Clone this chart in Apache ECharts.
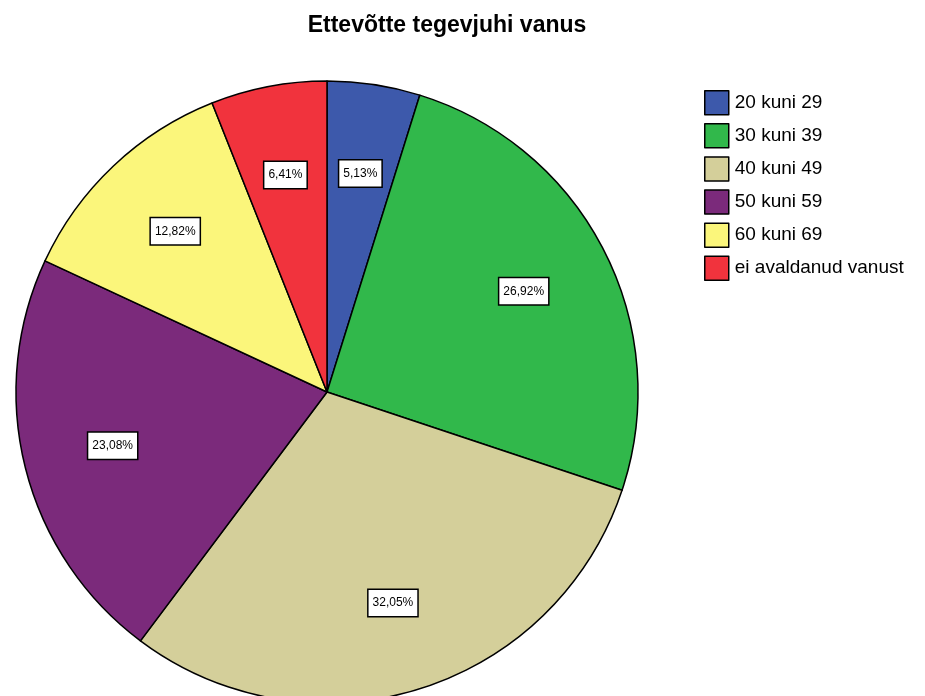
<!DOCTYPE html>
<html>
<head>
<meta charset="utf-8">
<script src="https://cdn.jsdelivr.net/npm/echarts@6/dist/echarts.min.js"></script>
<style>
  html, body { margin: 0; padding: 0; background: #fff; }
  #chart { width: 925px; height: 696px; }
</style>
</head>
<body>
<div id="chart"></div>
<script>
const categories = ['20 kuni 29', '30 kuni 39', '40 kuni 49', '50 kuni 59', '60 kuni 69', 'ei avaldanud vanust'];
const shares = [5.13, 26.92, 32.05, 23.08, 12.82, 6.41];
const colors = ['#3d59ab', '#31b84b', '#d4cf9a', '#7b2a7b', '#fbf67b', '#f1333d'];

let chart = echarts.init(document.getElementById('chart'));
let slices = categories.map((name, i) => ({ name: name, value: shares[i], itemStyle: { color: colors[i] } }));

chart.setOption({
    animation: false,
    title: {
        text: 'Ettevõtte tegevjuhi vanus',
        left: 442, top: 9, textAlign: 'center',
        textStyle: { fontFamily: 'Liberation Sans', fontSize: 23, fontWeight: 'bold', color: '#000' }
    },
    legend: {
        orient: 'vertical',
        left: 699, top: 85,
        itemWidth: 24, itemHeight: 24, itemGap: 7.6,
        icon: 'rect',
        itemStyle: { borderColor: '#000', borderWidth: 1.5 },
        textStyle: { fontFamily: 'Liberation Sans', fontSize: 19, lineHeight: 22, color: '#000', padding: [0, 0, 0, 1] },
        data: categories
    },
    series: [
        {
            type: 'pie',
            center: [327, 392],
            radius: [0, 311],
            startAngle: 90,
            clockwise: true,
            silent: true,
            itemStyle: { borderColor: '#000', borderWidth: 1.5 },
            label: { show: false },
            labelLine: { show: false },
            data: slices
        },
        {
            // transparent ring used only to place the value labels
            type: 'pie',
            center: [327, 392],
            radius: [125, 311],
            startAngle: 90,
            clockwise: true,
            silent: true,
            legendHoverLink: false,
            itemStyle: { color: 'rgba(0,0,0,0)', borderWidth: 0 },
            label: {
                show: true,
                position: 'inside',
                formatter: p => p.value.toFixed(2).replace('.', ',') + '%',
                fontFamily: 'Liberation Sans', fontSize: 12, color: '#000',
                backgroundColor: '#fff', borderColor: '#000', borderWidth: 1.5,
                padding: [7, 4]
            },
            labelLine: { show: false },
            data: categories.map((name, i) => ({ name: name + ' ', value: shares[i] }))
        }
    ]
});
</script>
</body>
</html>
